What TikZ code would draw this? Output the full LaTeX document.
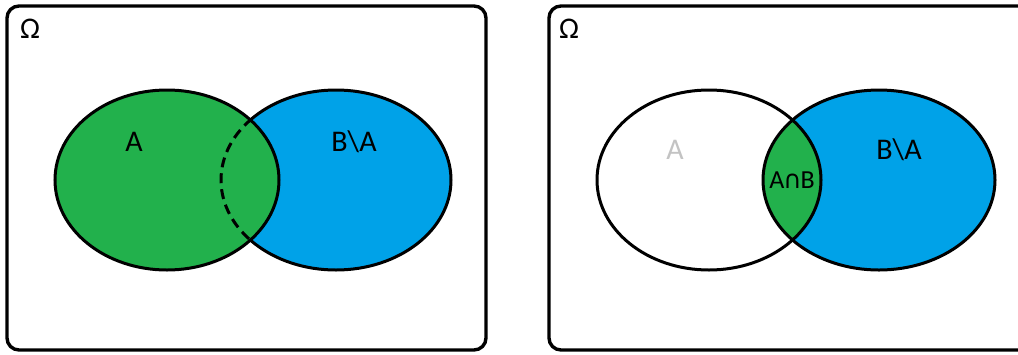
\documentclass[tikz,border=0pt]{standalone}
\usepackage{fontspec}
\setmainfont{Carlito}
\newfontfamily\symfont{DejaVu Sans}
\definecolor{setgreen}{HTML}{22B14C}
\definecolor{setblue}{HTML}{00A2E8}
\definecolor{palegray}{HTML}{C3C3C3}
\tikzset{
  frame/.style={draw=black, line width=3.4pt, rounded corners=12pt},
  setline/.style={draw=black, line width=3pt},
  lbl/.style={font=\fontsize{30}{30}\selectfont, inner sep=0pt},
  omega/.style={font=\fontsize{30}{30}\selectfont, inner sep=0pt},
}
\begin{document}
\begin{tikzpicture}[x=1pt, y=-1pt]
\useasboundingbox (0,0) rectangle (1018,354);
\clip (0,0) rectangle (1018,354);

% ---- left panel: A and B\A ----
\draw[frame] (7,6) rectangle (486,350);
\node[omega] (om1) at (30,29) {Ω};
\fill[setblue] (336,180) ellipse [x radius=115, y radius=90];
\draw[setline] (336,180) ellipse [x radius=115, y radius=90];
\fill[setgreen] (167,180) ellipse [x radius=112, y radius=90];
\draw[setline] (167,180) ellipse [x radius=112, y radius=90];
\begin{scope}
  \clip (167,180) ellipse [x radius=112, y radius=90];
  \draw[setline, dash pattern=on 10pt off 6pt] (336,180) ellipse [x radius=115, y radius=90];
\end{scope}
\node[lbl] (a1) at (134,142) {A};
\node[lbl] (b1) at (354,142) {B\textbackslash A};

% ---- right panel: A, A∩B and B\A ----
\draw[frame] (549,6) rectangle (1040,350);
\node[omega] (om2) at (569,29) {Ω};
\fill[white] (709,180) ellipse [x radius=112, y radius=90];
\fill[setblue] (879,180) ellipse [x radius=116, y radius=90];
\begin{scope}
  \clip (709,180) ellipse [x radius=112, y radius=90];
  \fill[setgreen] (879,180) ellipse [x radius=116, y radius=90];
\end{scope}
\draw[setline] (709,180) ellipse [x radius=112, y radius=90];
\draw[setline] (879,180) ellipse [x radius=116, y radius=90];
\node[lbl, text=palegray] (a2) at (675,150) {A};
\node[lbl] (b2) at (899,150) {B\textbackslash A};
\node[lbl, font=\fontsize{26}{26}\selectfont] (ab) at (792,180) {A\kern-1pt{\symfont\fontsize{25}{25}\selectfont ∩}\kern-1ptB};
\end{tikzpicture}
\end{document}
